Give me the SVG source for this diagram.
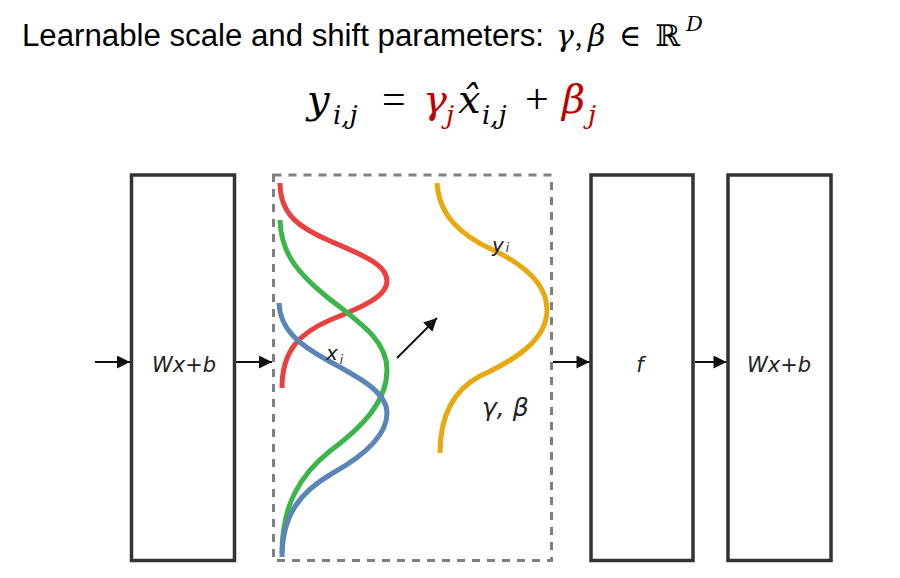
<svg xmlns="http://www.w3.org/2000/svg" width="900" height="578" viewBox="0 0 900 578">
<defs>
<marker id="ah" viewBox="0 0 10 10" refX="10" refY="5" markerWidth="18" markerHeight="13" markerUnits="userSpaceOnUse" orient="auto"><path d="M0,0 L10,5 L0,10 Z" fill="#111"/></marker>
<style>
.box{fill:#fff;stroke:#333;stroke-width:3.5}
.lbl{font-family:"DejaVu Sans",sans-serif;font-style:oblique;font-size:21px;fill:#222;text-anchor:middle}
.conn{stroke:#111;stroke-width:2;fill:none;marker-end:url(#ah)}
.curve{fill:none;stroke-width:5;stroke-linecap:butt}
.m{font-family:"DejaVu Serif",serif;font-style:italic}
.r{font-family:"Liberation Serif",serif;font-style:normal}
.s{font-family:"DejaVu Sans",sans-serif;font-style:oblique;fill:#222}
.red{fill:#c00000}
</style>
</defs>
<rect width="900" height="578" fill="#fff"/>
<g id="title">
<text x="22" y="46" font-family="Liberation Sans, Arial, sans-serif" font-size="31" fill="#000" textLength="522" lengthAdjust="spacingAndGlyphs">Learnable scale and shift parameters:</text>
<text y="46" font-size="30" fill="#000"><tspan class="m" x="556">γ</tspan><tspan class="r" x="575">,</tspan><tspan class="m" x="588">β</tspan><tspan font-family="DejaVu Serif,serif" x="619">∈</tspan><tspan font-family="DejaVu Serif,serif" x="655">ℝ</tspan><tspan class="m" font-size="21" x="686" y="31">D</tspan></text>
</g>
<g id="equation">
<text y="113" font-size="40" fill="#000"><tspan class="m" x="307">y</tspan><tspan class="m" font-size="26" x="333" y="124">i,j</tspan><tspan class="r" font-size="42" x="382" y="113">=</tspan><tspan class="m red" x="423">γ</tspan><tspan class="m red" font-size="26" x="446" y="124">j</tspan><tspan class="m" x="458" y="113">x̂</tspan><tspan class="m" font-size="26" x="482" y="124">i,j</tspan><tspan class="r" font-size="42" x="525" y="113">+</tspan><tspan class="m red" x="562">β</tspan><tspan class="m red" font-size="26" x="588" y="124">j</tspan></text>
</g>
<g id="box1"><rect class="box" x="131.5" y="175" width="103" height="385.5"/><text class="lbl" x="184" y="372">Wx+b</text></g>
<g id="norm">
<rect x="273.5" y="175" width="278" height="385.5" fill="none" stroke="#808080" stroke-width="3" stroke-dasharray="8,7"/>
<path class="curve" stroke="#ea4040" d="M280,183 C280,215 300,228 330,241 C365,256 387,265 387,281 C387,296 365,306 330,320 C300,333 282,350 282,388"/>
<path class="curve" stroke="#3cb54a" d="M280,220 C281,255 300,275 327,297 C360,323 387,340 387,370 C387,400 365,425 330,451 C300,475 282,505 282,553"/>
<path class="curve" stroke="#5b84b8" d="M279,303 C280,330 300,345 327,360 C360,378 387,392 387,413 C387,435 365,455 333,473 C300,492 282,515 282,557"/>
<path class="curve" stroke="#e8a810" d="M437,183 C439,215 460,235 493,250 C527,266 547,285 547,310 C547,340 515,360 480,376 C450,392 440,420 440,453"/>
<text class="s" x="326" y="360" font-size="20">x<tspan font-size="12" dx="2" dy="4">i</tspan></text>
<text class="s" x="492" y="252" font-size="20">y<tspan font-size="12" dx="2" dy="0">i</tspan></text>
<text class="s" x="482" y="416" font-size="25">γ, β</text>
<line class="conn" x1="397" y1="358" x2="437" y2="318"/>
</g>
<g id="box2"><rect class="box" x="591" y="175" width="102" height="385.5"/><text class="lbl" x="640" y="372">f</text></g>
<g id="box3"><rect class="box" x="728" y="175" width="103" height="385.5"/><text class="lbl" x="779" y="372">Wx+b</text></g>
<g id="connectors">
<line class="conn" x1="95" y1="362" x2="130" y2="362"/>
<line class="conn" x1="236" y1="362" x2="272" y2="362"/>
<line class="conn" x1="553" y1="362" x2="589.5" y2="362"/>
<line class="conn" x1="695" y1="362" x2="726.5" y2="362"/>
</g>
</svg>
